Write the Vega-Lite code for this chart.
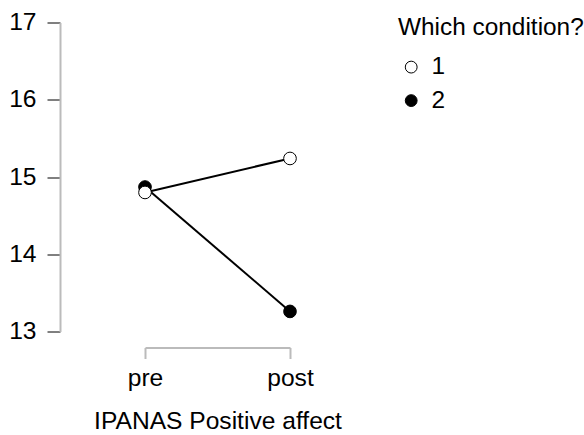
{
  "$schema": "https://vega.github.io/schema/vega-lite/v6.json",
  "width": 145,
  "height": 309,
  "autosize": {"type": "none"},
  "padding": {"left": 145, "top": 22.5, "right": 294, "bottom": 103.5},
  "data": {
    "values": [
      {"condition": "2", "time": "pre", "value": 14.87},
      {"condition": "2", "time": "post", "value": 13.26},
      {"condition": "1", "time": "pre", "value": 14.80},
      {"condition": "1", "time": "post", "value": 15.24}
    ]
  },
  "encoding": {
    "x": {
      "field": "time",
      "type": "nominal",
      "sort": ["pre", "post"],
      "scale": {"type": "point", "padding": 0, "domain": ["pre", "post"]},
      "axis": {
        "orient": "bottom",
        "offset": 16,
        "labelAngle": 0,
        "domainColor": "#bbbbbb",
        "domainWidth": 2,
        "tickColor": "#bbbbbb",
        "tickWidth": 2,
        "tickSize": 11,
        "labelFont": "Liberation Sans",
        "labelFontSize": 24.6,
        "labelColor": "black",
        "labelPadding": 8,
        "title": "IPANAS Positive affect",
        "titleFont": "Liberation Sans",
        "titleFontSize": 24.6,
        "titleFontWeight": "normal",
        "titleColor": "black",
        "titlePadding": 19,
        "titleLimit": 400,
        "grid": false
      }
    },
    "y": {
      "field": "value",
      "type": "quantitative",
      "scale": {"domain": [13, 17], "nice": false, "zero": false},
      "axis": {
        "values": [13, 14, 15, 16, 17],
        "offset": 85,
        "grid": false,
        "domainColor": "#bbbbbb",
        "domainWidth": 2,
        "tickColor": "black",
        "tickWidth": 1,
        "tickSize": 13,
        "labelFont": "Liberation Sans",
        "labelFontSize": 24.6,
        "labelColor": "black",
        "labelPadding": 11,
        "title": null
      }
    }
  },
  "layer": [
    {
      "mark": {"type": "line", "color": "black", "strokeWidth": 2},
      "encoding": {"detail": {"field": "condition", "type": "nominal"}}
    },
    {
      "mark": {"type": "point", "shape": "circle", "size": 160, "filled": true, "stroke": "black", "strokeWidth": 1, "opacity": 1},
      "encoding": {
        "fill": {
          "field": "condition",
          "type": "nominal",
          "scale": {"domain": ["1", "2"], "range": ["white", "black"]},
          "legend": {
            "orient": "none",
            "legendX": 253,
            "legendY": -7,
            "title": "Which condition?",
            "titleFont": "Liberation Sans",
            "titleFontSize": 24.4,
            "titleFontWeight": "normal",
            "titleColor": "black",
            "titlePadding": 15,
            "titleLimit": 400,
            "labelFont": "Liberation Sans",
            "labelFontSize": 24.4,
            "labelColor": "black",
            "labelOffset": 8,
            "rowPadding": 8.5,
            "symbolType": "circle",
            "symbolSize": 140,
            "symbolStrokeColor": "black",
            "symbolStrokeWidth": 1,
            "symbolOffset": 1,
            "padding": 0
          }
        }
      }
    }
  ],
  "config": {"view": {"stroke": null}, "background": "white"}
}
